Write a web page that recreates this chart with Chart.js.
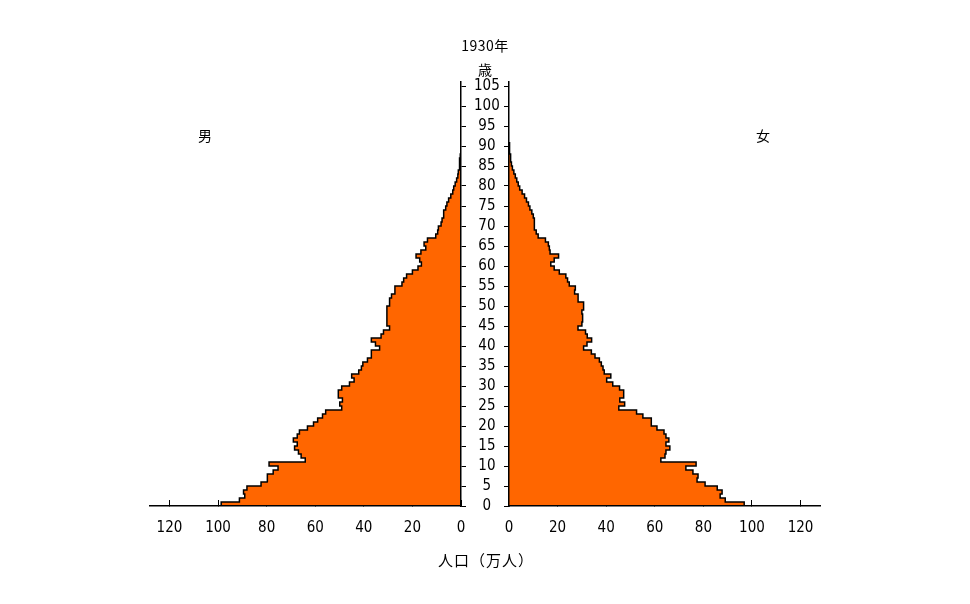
<!DOCTYPE html>
<html lang="ja">
<head>
<meta charset="utf-8">
<script src="https://cdn.jsdelivr.net/npm/chart.js@4.4.1/dist/chart.umd.min.js"></script>
<style>
    html, body { margin: 0; padding: 0; background: #fff; }
    #wrap { position: relative; width: 970px; height: 604px; overflow: hidden; }
    #wrap canvas { position: absolute; left: 0; top: 0; }
    .lbl {
        position: absolute;
        font-family: 'Noto Sans CJK JP', sans-serif;
        font-size: 14px;
        line-height: 1;
        color: #000;
        white-space: nowrap;
        transform: translate(-50%, -50%);
    }
</style>
</head>
<body>
<div id="wrap">
    <canvas id="male-chart" width="970" height="604"></canvas>
    <canvas id="female-chart" width="970" height="604"></canvas>
    <div class="lbl" style="left:485px; top:45px; letter-spacing:0.5px;">1930年</div>
    <div class="lbl" style="left:485px; top:69px;">歳</div>
    <div class="lbl" style="left:205px; top:135px;">男</div>
    <div class="lbl" style="left:763px; top:135px;">女</div>
    <div class="lbl" style="left:486px; top:559px; font-size:15px; letter-spacing:1px;">人口（万人）</div>
</div>
<script>
// Population by single year of age (万人), index = age
var maleValues = [
    98.7, 91.2, 89.0, 89.5, 88.1, 82.3, 79.5, 79.8, 77.3, 75.3,
    79.0, 64.1, 65.8, 66.9, 68.5, 67.4, 69.0, 67.4, 66.5, 63.2,
    60.7, 59.0, 57.0, 55.7, 49.1, 49.9, 48.8, 50.5, 50.5, 49.1,
    45.9, 44.0, 45.0, 42.1, 41.0, 40.4, 38.5, 36.9, 36.9, 33.5,
    35.2, 36.9, 32.9, 31.9, 29.4, 30.5, 30.5, 30.5, 30.5, 30.5,
    29.4, 29.4, 28.6, 27.2, 27.2, 24.3, 23.6, 22.4, 20.0, 17.7,
    16.3, 17.0, 18.5, 16.5, 14.5, 15.2, 13.8, 10.4, 9.6, 9.3,
    8.2, 7.8, 7.4, 7.0, 6.3, 5.8, 5.1, 4.2, 3.4, 3.0,
    2.4, 1.8, 1.3, 1.1, 0.8, 0.6, 0.5, 0.3
];
var femaleValues = [
    96.8, 89.0, 86.9, 87.7, 85.7, 80.7, 77.4, 77.8, 75.7, 72.8,
    77.0, 62.5, 64.2, 64.6, 66.2, 64.6, 65.8, 64.6, 63.8, 60.9,
    58.7, 58.5, 55.1, 52.5, 45.2, 47.6, 45.6, 47.2, 47.2, 45.5,
    42.7, 40.2, 41.9, 39.2, 38.7, 38.0, 37.2, 35.4, 33.9, 30.7,
    32.1, 34.0, 32.2, 31.5, 28.4, 30.0, 30.3, 30.3, 30.0, 30.7,
    30.7, 28.5, 28.4, 27.0, 27.3, 24.8, 24.1, 23.4, 20.7, 18.6,
    17.2, 18.6, 20.4, 16.9, 16.6, 16.2, 15.0, 12.0, 11.2, 10.6,
    10.5, 10.3, 10.0, 9.4, 8.6, 8.0, 7.2, 6.4, 5.4, 4.4,
    3.8, 3.2, 2.6, 2.0, 1.4, 1.0, 0.8, 0.6, 0.4, 0.3, 0.2
];
var ageTicks = [0, 5, 10, 15, 20, 25, 30, 35, 40, 45, 50, 55, 60, 65, 70, 75, 80, 85, 90, 95, 100, 105];
var popTicks = [0, 20, 40, 60, 80, 100, 120];
var AGE_MAX = 106;
var POP_MAX = 128;

var FILL = '#ff6600';
var NUM_FONT = "'Liberation Sans Narrow', 'DejaVu Sans Condensed', sans-serif";

// each age is a one-year band: outline goes up the bar edge, then steps
function stepPoints(values) {
    var pts = [];
    values.forEach(function (v, age) {
        pts.push({ x: v, y: age });
        pts.push({ x: v, y: age + 1 });
    });
    pts.push({ x: 0, y: values.length });
    return pts;
}

function buildConfig(values, isMale) {
    return {
        type: 'line',
        data: {
            datasets: [{
                data: stepPoints(values),
                fill: 'origin',
                backgroundColor: FILL,
                borderColor: '#000',
                borderWidth: 1.5,
                pointRadius: 0,
                tension: 0
            }]
        },
        options: {
            indexAxis: 'y',
            responsive: false,
            animation: false,
            layout: {
                padding: isMale
                    ? { left: 150, right: 461, top: 82, bottom: 58 }
                    : { left: 461, right: 150, top: 82, bottom: 58 }
            },
            plugins: {
                legend: { display: false },
                tooltip: { enabled: false }
            },
            scales: {
                x: {
                    type: 'linear',
                    min: 0,
                    max: POP_MAX,
                    reverse: isMale,
                    afterBuildTicks: function (scale) {
                        scale.ticks = popTicks.map(function (v) { return { value: v }; });
                    },
                    afterFit: function (scale) { scale.height = 40; },
                    ticks: {
                        padding: 19,
                        maxRotation: 0,
                        autoSkip: false,
                        color: '#000',
                        font: { family: NUM_FONT, size: 15 }
                    },
                    grid: { drawOnChartArea: false, tickLength: -6, color: '#000', lineWidth: 1 },
                    border: { color: '#000', width: 1.5, z: 1 }
                },
                y: {
                    type: 'linear',
                    min: 0,
                    max: AGE_MAX,
                    position: isMale ? 'right' : 'left',
                    afterBuildTicks: function (scale) {
                        scale.ticks = ageTicks.map(function (v) { return { value: v }; });
                    },
                    afterFit: function (scale) { scale.width = 48; },
                    ticks: {
                        display: isMale,
                        autoSkip: false,
                        crossAlign: 'center',
                        padding: 8,
                        color: '#000',
                        font: { family: NUM_FONT, size: 15 }
                    },
                    grid: { drawOnChartArea: false, tickLength: 5, color: '#000', lineWidth: 1 },
                    border: { color: '#000', width: 1.5, z: 1 }
                }
            }
        }
    };
}

new Chart(document.getElementById('male-chart'), buildConfig(maleValues, true));
new Chart(document.getElementById('female-chart'), buildConfig(femaleValues, false));
</script>
</body>
</html>
